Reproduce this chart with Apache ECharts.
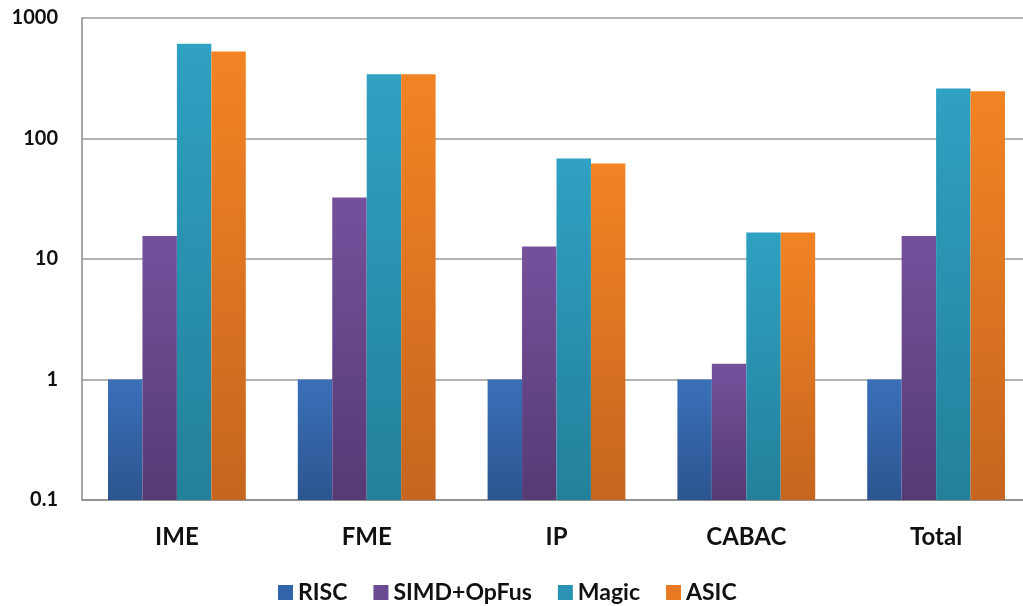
<!DOCTYPE html>
<html><head><meta charset="utf-8">
<script src="https://cdn.jsdelivr.net/npm/echarts@6/dist/echarts.min.js"></script>
<style>html,body{margin:0;padding:0;background:#fff}#c{width:1023px;height:606px}</style>
</head><body><div id="c"></div>
<script>
const categories = ['IME', 'FME', 'IP', 'CABAC', 'Total'];
const seriesNames = ['RISC', 'SIMD+OpFus', 'Magic', 'ASIC'];
const risc = [1, 1, 1, 1, 1];
const simd = [15.5, 32.4, 12.7, 1.35, 15.5];
const magic = [611, 342, 68.2, 16.6, 260];
const asic = [527, 342, 62, 16.6, 247];
const yTicks = [0.1, 1, 10, 100, 1000];

const palette = [
  ['#3a70b9', '#2c5590'],
  ['#75519c', '#563a74'],
  ['#2fa1c2', '#23809a'],
  ['#f38424', '#c5651f']
];
const legendColors = ['#3164a8', '#6a4a91', '#2a93b3', '#e77a22'];
const data = [risc, simd, magic, asic];
const chart = echarts.init(document.getElementById('c'));
const font = 'Lato, "Open Sans", sans-serif';
chart.setOption({
  animation: false,
  grid: { left: 82, width: 949, top: 18, height: 482, containLabel: false, outerBoundsMode: 'none' },
  legend: {
    top: 576, left: 273, itemWidth: 15, itemHeight: 15, itemGap: 26,
    icon: 'rect',
    textStyle: { fontFamily: font, fontWeight: 'bold', fontSize: 23, color: '#111' },
    data: seriesNames.map((n, i) => ({ name: n, itemStyle: { color: legendColors[i] } }))
  },
  xAxis: {
    type: 'category', data: categories,
    axisLine: { lineStyle: { color: '#8a8a8a', width: 1.5 } },
    axisTick: { show: false },
    axisLabel: { fontFamily: font, fontWeight: 'bold', fontSize: 24, color: '#111', margin: 25 }
  },
  yAxis: {
    type: 'log', logBase: 10, min: 0.1, max: 1000, startValue: 0.1,
    axisLine: { show: true, lineStyle: { color: '#8a8a8a', width: 1.5 } },
    axisTick: { show: false },
    splitLine: { lineStyle: { color: '#9a9a9a', width: 1.5 } },
    axisLabel: {
      fontFamily: font, fontWeight: 'bold', fontSize: 20, color: '#111', margin: 24,
      formatter: v => { const t = yTicks.find(x => Math.abs(x - v) / x < 1e-6); return t !== undefined ? String(t) : ''; }
    }
  },
  series: seriesNames.map((n, i) => ({
    name: n, type: 'bar', data: data[i],
    barGap: '0%', barCategoryGap: '27.4%',
    itemStyle: {
      color: new echarts.graphic.LinearGradient(0, 0, 0, 1, [
        { offset: 0, color: palette[i][0] }, { offset: 1, color: palette[i][1] }
      ], false)
    }
  }))
});
</script></body></html>
